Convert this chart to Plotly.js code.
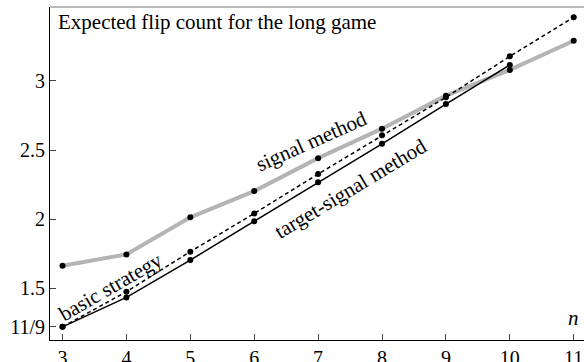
<!DOCTYPE html>
<html>
<head>
<meta charset="utf-8">
<script src="https://cdn.plot.ly/plotly-3.0.1.min.js"></script>
<style>html,body{margin:0;padding:0;background:#fff;}#chart{width:584px;height:362px;}</style>
</head>
<body>
<div id="chart"></div>
<script>
const nSignal = [3, 4, 5, 6, 7, 8, 9, 10, 11];
const signalMethod = [1.664, 1.746, 2.014, 2.204, 2.442, 2.655, 2.894, 3.080, 3.291];
const nBasic = [3, 4, 5, 6, 7, 8, 9, 10, 11];
const basicStrategy = [11/9, 1.476, 1.766, 2.042, 2.327, 2.607, 2.882, 3.178, 3.461];
const nTarget = [3, 4, 5, 6, 7, 8, 9, 10];
const targetSignal = [11/9, 1.435, 1.705, 1.985, 2.267, 2.546, 2.833, 3.116];
const xTicks = [3, 4, 5, 6, 7, 8, 9, 10, 11];
const yTickVals = [11/9, 1.5, 2, 2.5, 3];
const yTickText = ["11/9", "1.5", "2", "2.5", "3"];

const FONT = "Liberation Serif";
const mk = {color: "#000", size: 6};

const traces = [
  {x: nSignal, y: signalMethod, mode: "lines+markers", line: {color: "#b4b4b4", width: 4}, marker: mk, hoverinfo: "none"},
  {x: nBasic, y: basicStrategy, mode: "lines+markers", line: {color: "#000", width: 1.5, dash: "4px,3px"}, marker: mk, hoverinfo: "none"},
  {x: nTarget, y: targetSignal, mode: "lines+markers", line: {color: "#000", width: 1.5}, marker: mk, hoverinfo: "none"}
];

const layout = {
  width: 584, height: 362,
  margin: {l: 50, r: 0, t: 7, b: 22},
  paper_bgcolor: "#fff", plot_bgcolor: "#fff",
  showlegend: false,
  font: {family: FONT, size: 20, color: "#000"},
  xaxis: {
    range: [2.804, 11.161], tickvals: xTicks, ticktext: xTicks.map(String),
    showgrid: false, zeroline: false, showline: true, linecolor: "#000", linewidth: 1,
    ticks: "inside", ticklen: 6, tickcolor: "#444", tickwidth: 1,
    tickfont: {family: FONT, size: 20, color: "#000"}
  },
  yaxis: {
    range: [1.127, 3.535], tickvals: yTickVals, ticktext: yTickText,
    showgrid: false, zeroline: false, showline: true, linecolor: "#000", linewidth: 1,
    ticks: "inside", ticklen: 6, tickcolor: "#444", tickwidth: 1,
    tickfont: {family: FONT, size: 20, color: "#000"}
  },
  shapes: [
    {type: "line", xref: "paper", yref: "paper", x0: 0, x1: 1, y0: 1, y1: 1, line: {color: "#777", width: 1}}
  ],
  annotations: [
    {text: "Expected flip count for the long game", xref: "paper", yref: "paper", x: 0.011, y: 0.955,
     xanchor: "left", yanchor: "middle", showarrow: false, font: {family: FONT, size: 21, color: "#000"}},
    {text: "signal method", xref: "x", yref: "y", x: 6.904, y: 2.566, textangle: -24,
     showarrow: false, font: {family: FONT, size: 21, color: "#000"}},
    {text: "target-signal method", xref: "x", yref: "y", x: 7.5, y: 2.22, textangle: -31,
     showarrow: false, font: {family: FONT, size: 21, color: "#000"}},
    {text: "basic strategy", xref: "x", yref: "y", x: 3.749, y: 1.51, textangle: -30,
     showarrow: false, font: {family: FONT, size: 21, color: "#000"}},
    {text: "<i>n</i>", xref: "x", yref: "y", x: 11.0, y: 1.285,
     showarrow: false, font: {family: FONT, size: 21, color: "#000"}}
  ]
};

Plotly.newPlot("chart", traces, layout, {staticPlot: true, displayModeBar: false});
</script>
</body>
</html>
